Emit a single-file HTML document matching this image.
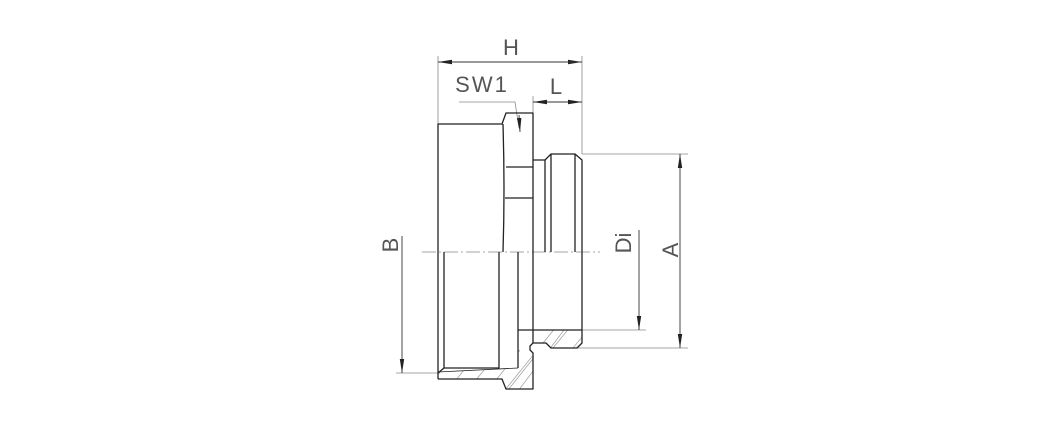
<!DOCTYPE html>
<html><head><meta charset="utf-8"><style>
html,body{margin:0;padding:0;background:#fff;}
svg{display:block}
text{font-family:"Liberation Sans",sans-serif;fill:#555;font-size:22px;}
</style></head><body>
<svg width="1063" height="425" viewBox="0 0 1063 425" xmlns="http://www.w3.org/2000/svg">
<defs>
<marker id="ar" markerWidth="14" markerHeight="6" refX="14" refY="3" orient="auto" markerUnits="userSpaceOnUse">
<path d="M0,0.8 L14,3 L0,5.2 Z" fill="#222"/></marker>
<clipPath id="sec"><path d="M438,372 L518,368 L518,330 L582,330 L582,343 L577,348 L551,348 L546,343 L533,343 L530,346 L530,350 L533,353 L533,389 L506,389 L502,379 L438,379 Z"/></clipPath>
</defs>
<g stroke="#888" stroke-width="0.8" fill="none">
<!-- extension lines -->
<line x1="438" y1="56" x2="438" y2="124"/>
<line x1="582" y1="56" x2="582" y2="154"/>
<line x1="533" y1="96" x2="533" y2="113"/>
<line x1="582" y1="154" x2="688" y2="154"/>
<line x1="582" y1="330" x2="646" y2="330"/>
<line x1="551" y1="348" x2="688" y2="348"/>
<line x1="396" y1="373" x2="440" y2="373"/>
<!-- SW1 leader -->
<polyline points="459,102 515,102 519,128"/>
<!-- centre line -->
<line x1="422" y1="252" x2="600" y2="252" stroke-dasharray="14,3,2,3"/>
</g>
<g stroke="#333" stroke-width="0.9" fill="none">
<line x1="438" y1="62" x2="582" y2="62" marker-end="url(#ar)"/>
<line x1="582" y1="62" x2="438" y2="62" marker-end="url(#ar)"/>
<line x1="560" y1="102" x2="533" y2="102" marker-end="url(#ar)"/>
<line x1="560" y1="102" x2="582" y2="102" marker-end="url(#ar)"/>
<line x1="519" y1="115" x2="520" y2="132" marker-end="url(#ar)"/>
<line x1="680" y1="250" x2="680" y2="154" marker-end="url(#ar)"/>
<line x1="680" y1="250" x2="680" y2="348" marker-end="url(#ar)"/>
<line x1="639" y1="230" x2="639" y2="330" marker-end="url(#ar)"/>
<line x1="402" y1="236" x2="402" y2="373" marker-end="url(#ar)"/>
</g>
<!-- hatching -->
<g clip-path="url(#sec)" stroke="#999" stroke-width="0.7">
<line x1="440" y1="400" x2="480" y2="350"/><line x1="460" y1="400" x2="500" y2="350"/>
<line x1="480" y1="400" x2="520" y2="350"/><line x1="500" y1="400" x2="540" y2="350"/>
<line x1="505" y1="390" x2="560" y2="322"/><line x1="515" y1="395" x2="570" y2="322"/>
<line x1="535" y1="370" x2="580" y2="315"/><line x1="555" y1="370" x2="600" y2="315"/>
<line x1="575" y1="370" x2="620" y2="315"/>
</g>
<g stroke="#222" stroke-width="1.3" fill="none" stroke-linejoin="round">
<!-- outer body -->
<path d="M438,379 L438,124 L502,124 L506,113 L533,113 L533,343"/>
<path d="M503,124 Q505,190 503,252"/>
<line x1="506" y1="167" x2="533" y2="167"/>
<line x1="505" y1="198" x2="533" y2="198"/>
<!-- thread male -->
<path d="M533,160 L545,160 L551,154 L575,154 L582,160 L582,343 L577,348 L551,348 L546,343 L533,343 L530,346 L530,350 L533,353 L533,389 L506,389 L502,379 L438,379"/>
<line x1="545" y1="160" x2="545" y2="252"/>
<line x1="551" y1="154" x2="551" y2="252"/>
<line x1="575" y1="154" x2="575" y2="252"/>
<!-- bore -->
<path d="M444,252 L444,368 L499,368 L499,252"/>
<path d="M518,252 L518,330 L582,330"/>
<line x1="518" y1="330" x2="518" y2="368"/>
<line x1="438" y1="373" x2="444" y2="368"/>
<line x1="438" y1="372" x2="518" y2="368" stroke-width="0.8"/>
</g>
<text x="511" y="55" text-anchor="middle">H</text>
<text x="482" y="92" text-anchor="middle" letter-spacing="2">SW1</text>
<text x="556" y="94" text-anchor="middle">L</text>
<text transform="translate(398,245) rotate(-90)" text-anchor="middle">B</text>
<text transform="translate(631,243) rotate(-90)" text-anchor="middle">Di</text>
<text transform="translate(678,250) rotate(-90)" text-anchor="middle">A</text>
</svg>
</body></html>
